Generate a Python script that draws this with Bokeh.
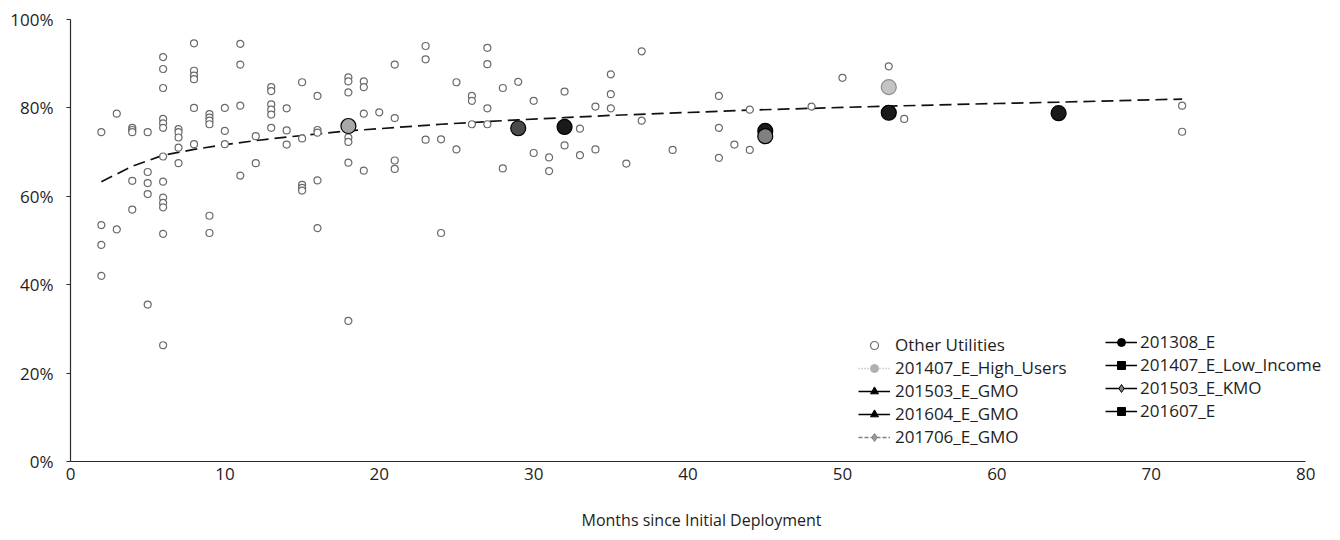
from bokeh.plotting import figure
from bokeh.models import Legend, LegendItem, PrintfTickFormatter, Range1d
from bokeh.embed import file_html
from bokeh.resources import INLINE

# ---------------- data ----------------
other_months = [
    2, 2, 2, 2,
    3, 3,
    4, 4, 4, 4, 4,
    5, 5, 5, 5, 5,
    6, 6, 6, 6, 6, 6, 6, 6, 6, 6, 6, 6, 6,
    7, 7, 7, 7, 7,
    8, 8, 8, 8, 8, 8,
    9, 9, 9, 9, 9, 9,
    10, 10, 10,
    11, 11, 11, 11,
    12, 12,
    13, 13, 13, 13, 13, 13,
    14, 14, 14,
    15, 15, 15, 15, 15,
    16, 16, 16, 16, 16,
    18, 18, 18, 18, 18, 18, 18,
    19, 19, 19, 19,
    20,
    21, 21, 21, 21,
    23, 23, 23,
    24, 24,
    25, 25,
    26, 26, 26,
    27, 27, 27, 27,
    28, 28,
    29,
    30, 30,
    31, 31,
    32, 32,
    33, 33,
    34, 34,
    35, 35, 35,
    36,
    37, 37,
    39,
    42, 42, 42,
    43,
    44, 44,
    48,
    50,
    53,
    54,
    72, 72,
]
other_rates = [
    74.5, 53.5, 49.0, 42.0,
    78.7, 52.5,
    75.5, 75.0, 74.5, 63.5, 57.0,
    74.5, 65.5, 63.0, 60.5, 35.5,
    91.5, 88.8, 84.5, 77.5, 76.5, 75.5, 69.0, 63.3, 59.7, 58.5, 57.5, 51.5, 26.3,
    75.2, 74.5, 73.3, 71.0, 67.5,
    94.6, 88.4, 87.3, 86.5, 80.0, 71.8,
    78.6, 77.8, 77.1, 76.3, 55.6, 51.7,
    80.0, 74.8, 71.8,
    94.5, 89.8, 80.5, 64.7,
    73.6, 67.5,
    84.7, 83.8, 80.8, 79.6, 78.5, 75.5,
    79.9, 74.9, 71.7,
    85.8, 73.1, 62.6, 61.9, 61.3,
    82.7, 75.0, 74.4, 63.6, 52.8,
    86.9, 86.0, 83.5, 73.3, 72.3, 67.6, 31.8,
    86.0, 84.7, 78.7, 65.8,
    79.0,
    89.8, 77.7, 68.1, 66.2,
    94.0, 91.0, 72.8,
    72.9, 51.7,
    85.8, 70.6,
    82.7, 81.6, 76.3,
    93.6, 89.9, 79.9, 76.3,
    84.5, 66.3,
    85.9,
    81.6, 69.8,
    68.8, 65.7,
    83.7, 71.5,
    75.3, 69.3,
    80.3, 70.6,
    87.6, 83.1, 79.9,
    67.4,
    92.8, 77.1,
    70.5,
    82.7, 75.5, 68.7,
    71.7,
    79.6, 70.5,
    80.3,
    86.8,
    89.4,
    77.5,
    80.5, 74.6,
]

series_names = ["201308_E", "201407_E_High_Users", "201407_E_Low_Income",
                "201503_E_GMO", "201503_E_KMO", "201604_E_GMO",
                "201607_E", "201706_E_GMO"]
series_months = [64, 53, 53, 45, 45, 32, 29, 18]
series_rates = [78.8, 84.7, 78.9, 74.8, 73.6, 75.7, 75.4, 75.9]

trend_months = [2, 4, 6, 8, 10, 12, 14, 16, 18, 20, 24, 26, 29, 32, 35, 38, 41, 44, 53, 60, 64, 72]
trend_rates = [63.3, 66.8, 69.3, 70.6, 71.7, 72.6, 73.4, 74.1, 74.8, 75.3, 76.3, 76.7,
               77.3, 77.8, 78.3, 78.7, 79.1, 79.5, 80.4, 81.0, 81.3, 82.0]

x_ticks = [0, 10, 20, 30, 40, 50, 60, 70, 80]
y_ticks = [0, 20, 40, 60, 80, 100]
x_title = "Months since Initial Deployment"
other_label = "Other Utilities"
legend_col2 = ["201308_E", "201407_E_Low_Income", "201503_E_KMO", "201607_E"]

# ---------------- styles ----------------
FONT = "Open Sans"
TXT = "#1e1e1e"
series_fill = ["#1a1a1a", "#c4c4c4", "#1a1a1a", "#1a1a1a", "#808080", "#1a1a1a", "#4a4a4a", "#a8a8a8"]
series_line = ["#000000", "#8c8c8c", "#000000", "#000000", "#000000", "#000000", "#000000", "#000000"]
leg_line_color = ["#000000", "#b0b0b0", "#000000", "#000000", "#000000", "#000000", "#000000", "#808080"]
leg_line_dash = ["solid", "1 2", "solid", "solid", "solid", "solid", "solid", "4 2"]
leg_marker = ["circle", "circle", "square", "triangle", "diamond", "triangle", "square", "diamond"]
leg_marker_fill = ["#000000", "#b0b0b0", "#000000", "#000000", "#808080", "#000000", "#000000", "#9a9a9a"]

# frame: x 70..1332 px, axis drawn only over 0..80 (80 at x=1305)
p = figure(width=1340, height=540, output_backend="svg", toolbar_location=None,
           x_range=Range1d(0, 81.74), y_range=Range1d(0, 100),
           min_border_left=70, min_border_right=8, min_border_top=19, min_border_bottom=79)
p.outline_line_color = None
p.xgrid.visible = False
p.ygrid.visible = False
p.background_fill_color = "white"

p.xaxis.ticker = x_ticks
p.xaxis.bounds = (0, 80)
p.yaxis.ticker = y_ticks
p.yaxis.formatter = PrintfTickFormatter(format="%d%%")
for ax in (p.xaxis, p.yaxis):
    ax.axis_line_color = "#2a2a2a"
    ax.axis_line_width = 1.2
    ax.major_tick_line_color = "#2a2a2a"
    ax.minor_tick_line_color = None
    ax.major_label_text_font = FONT
    ax.major_label_text_font_size = "17px"
    ax.major_label_text_color = TXT
p.xaxis.major_tick_out = 0
p.xaxis.major_tick_in = 0
p.yaxis.major_tick_out = 4
p.yaxis.major_tick_in = 0
p.xaxis.major_label_standoff = 6
p.yaxis.major_label_standoff = 13
p.xaxis.axis_label = x_title
p.xaxis.axis_label_text_font = FONT
p.xaxis.axis_label_text_font_style = "normal"
p.xaxis.axis_label_text_font_size = "16px"
p.xaxis.axis_label_text_color = TXT
p.xaxis.axis_label_standoff = 26

# trend line (logarithmic trendline)
p.line(trend_months, trend_rates, line_color="#111111", line_width=1.7, line_dash="12 6")

# other utilities
r_other = p.scatter(other_months, other_rates, marker="circle", size=7,
                    fill_color="white", line_color="#6a6a6a", line_width=1.2)

items_col1 = [LegendItem(label=other_label, renderers=[r_other])]
items_col2 = []
for i, name in enumerate(series_names):
    xs = [series_months[i]]
    ys = [series_rates[i]]
    # line + small marker used for the legend glyph (hidden under the big marker)
    lr = p.line(xs, ys, line_color=leg_line_color[i], line_width=1.6, line_dash=leg_line_dash[i])
    mr = p.scatter(xs, ys, marker=leg_marker[i], size=6, fill_color=leg_marker_fill[i],
                   line_color=leg_line_color[i])
    p.scatter(xs, ys, marker="circle", size=15,
              fill_color=series_fill[i], line_color=series_line[i], line_width=1.2)
    item = LegendItem(label=name, renderers=[lr, mr])
    if name in legend_col2:
        items_col2.append(item)
    else:
        items_col1.append(item)

def make_legend(items, loc, standoff):
    return Legend(items=items, location=loc, orientation="vertical",
                  label_text_font=FONT, label_text_font_size="17px", label_text_color=TXT,
                  glyph_width=32, glyph_height=20, label_height=20, spacing=0,
                  padding=0, margin=0, border_line_color=None, background_fill_alpha=0,
                  label_standoff=standoff)

p.add_layout(make_legend(items_col1, (788, 13), 5))
p.add_layout(make_legend(items_col2, (1035, 39), 3))

open("out.html", "w").write(file_html(p, INLINE))
